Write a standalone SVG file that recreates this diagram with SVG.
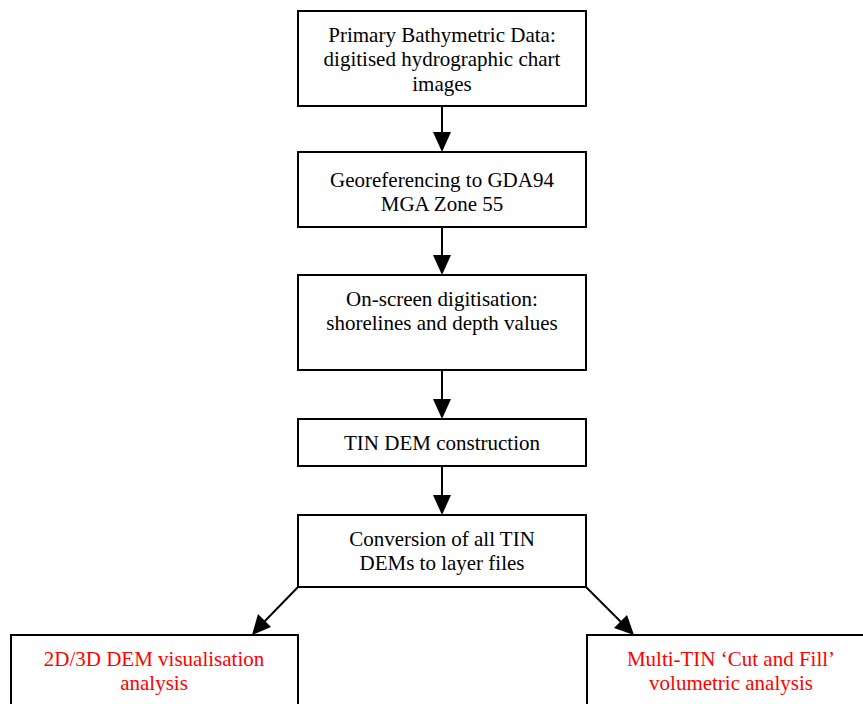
<svg xmlns="http://www.w3.org/2000/svg" width="863" height="704" viewBox="0 0 863 704">
<style>
.box{fill:#fff;stroke:#000;stroke-width:2}
.t{font-family:"Liberation Serif","Times New Roman",serif;font-size:21px;fill:#000;text-anchor:middle}
.r{fill:#ff0000}
.c{stroke:#000;stroke-width:2;fill:none}
.h{fill:#000}
</style>
<rect width="863" height="704" fill="#fff"/>
<g id="connectors">
<line class="c" x1="442" y1="106" x2="442" y2="134"/>
<path class="h" d="M433,132 L451,132 L442,152 Z"/>
<line class="c" x1="442" y1="227" x2="442" y2="257"/>
<path class="h" d="M433,255 L451,255 L442,275 Z"/>
<line class="c" x1="442" y1="370" x2="442" y2="401"/>
<path class="h" d="M433,399 L451,399 L442,419 Z"/>
<line class="c" x1="442" y1="466" x2="442" y2="497"/>
<path class="h" d="M433,495 L451,495 L442,515 Z"/>
<line class="c" x1="298" y1="587" x2="264" y2="622"/>
<path class="h" d="M252,635 L258,614 L271,627 Z"/>
<line class="c" x1="586" y1="587" x2="621" y2="622"/>
<path class="h" d="M634,635 L614,628 L627,615 Z"/>
</g>
<g id="n1"><rect class="box" x="298" y="11" width="288" height="95"/>
<text class="t" x="442" y="42">Primary Bathymetric Data:</text>
<text class="t" x="442" y="66">digitised hydrographic chart</text>
<text class="t" x="442" y="91">images</text></g>
<g id="n2"><rect class="box" x="298" y="152" width="288" height="75"/>
<text class="t" x="442" y="187">Georeferencing to GDA94</text>
<text class="t" x="442" y="211">MGA Zone 55</text></g>
<g id="n3"><rect class="box" x="298" y="275" width="288" height="95"/>
<text class="t" x="442" y="306">On-screen digitisation:</text>
<text class="t" x="442" y="330">shorelines and depth values</text></g>
<g id="n4"><rect class="box" x="298" y="419" width="288" height="47"/>
<text class="t" x="442" y="450">TIN DEM construction</text></g>
<g id="n5"><rect class="box" x="298" y="515" width="288" height="72"/>
<text class="t" x="442" y="546">Conversion of all TIN</text>
<text class="t" x="442" y="570">DEMs to layer files</text></g>
<g id="n6"><rect class="box" x="11" y="635" width="287" height="80"/>
<text class="t r" x="154" y="666">2D/3D DEM visualisation</text>
<text class="t r" x="154" y="690">analysis</text></g>
<g id="n7"><rect class="box" x="587" y="635" width="288" height="80"/>
<text class="t r" x="731" y="666">Multi-TIN ‘Cut and Fill’</text>
<text class="t r" x="731" y="690">volumetric analysis</text></g>
</svg>
